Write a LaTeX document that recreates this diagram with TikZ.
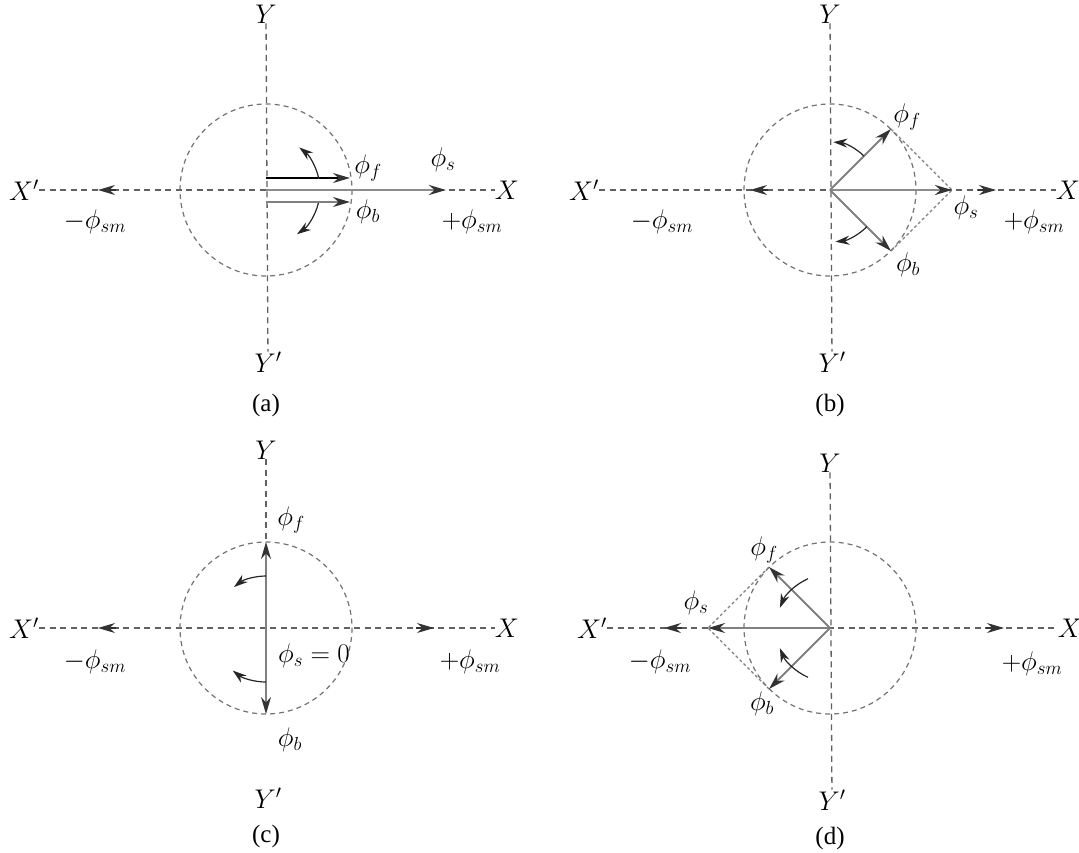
\RequirePackage{fix-cm}
\documentclass[tikz,border=0pt]{standalone}
\usepackage{fontspec}
\setmainfont{Liberation Serif}
\usetikzlibrary{arrows.meta}
\tikzset{
  lbl/.style={inner sep=0pt, font=\fontsize{27}{31}\selectfont},
  captxt/.style={inner sep=0pt, font=\fontsize{25}{29}\selectfont},
  axisline/.style={draw=black!62, line width=1.3pt, dash pattern=on 6pt off 4.5pt},
  circline/.style={draw=black!55, line width=1.2pt, dash pattern=on 5pt off 4pt},
  partline/.style={draw=black!50, line width=1.1pt, dash pattern=on 3pt off 2.5pt},
  tipA/.style={-{Stealth[length=17pt,width=10pt,color=black!80]}},
  axtip/.style={tipA, draw=black!80, line width=1.3pt},
  vecgray/.style={tipA, draw=black!50, line width=1.8pt},
  vecthick/.style={tipA, draw=black!45, line width=2.6pt},
  vecblack/.style={tipA, draw=black, line width=1.8pt},
  rot/.style={-{Stealth[length=14pt,width=9pt]}, draw=black!85, line width=1.2pt}
}
\begin{document}
\begin{tikzpicture}[x=1pt,y=-1pt]
\useasboundingbox (0,0) rectangle (1079,852);
% ---------------- (a) ----------------
\coordinate (Oa) at (266,190);
\node[lbl] (aY) at (266,14) {$Y$};
\node[lbl] (aYp) at (268,362) {$Y'$};
\node[lbl] (aXp) at (24,190) {$X'$};
\node[lbl] (aX) at (507,190) {$X$};
\draw[axisline] (aY) -- (aYp);
\draw[axisline] (aXp) -- (aX);
\draw[circline] (Oa) circle[radius=86];
\coordinate (aL1) at (116,190); \coordinate (aL2) at (98,190);
\draw[axtip] (aL1) -- (aL2);
\coordinate (aS) at (446,190);
\draw[vecthick] (Oa) -- (aS);
\coordinate (aF0) at (266,178); \coordinate (aF) at (350,178);
\coordinate (aB0) at (266,202); \coordinate (aB) at (350,202);
\draw[vecblack] (aF0) -- (aF);
\draw[vecgray] (aB0) -- (aB);
\draw[rot] (Oa) ++(-12:54) arc[start angle=-12, end angle=-52, radius=54];
\draw[rot] (Oa) ++(14:54) arc[start angle=14, end angle=55, radius=54];
\node[lbl] (aFl) at (368,168) {$\phi_f$};
\node[lbl] (aBl) at (368,212) {$\phi_b$};
\node[lbl] (aSl) at (443,160) {$\phi_s$};
\node[lbl] (aPm) at (472,222) {$+\phi_{sm}$};
\node[lbl] (aMm) at (95,222) {$-\phi_{sm}$};
\node[captxt] (aC) at (266,405) {(a)};
% ---------------- (b) ----------------
\coordinate (Ob) at (830,190);
\node[lbl] (bY) at (830,14) {$Y$};
\node[lbl] (bYp) at (832,362) {$Y'$};
\node[lbl] (bXp) at (584,190) {$X'$};
\node[lbl] (bX) at (1068,190) {$X$};
\draw[axisline] (bY) -- (bYp);
\draw[axisline] (bXp) -- (bX);
\draw[circline] (Ob) circle[radius=86];
\coordinate (bL1) at (768,190); \coordinate (bL2) at (750,190);
\draw[axtip] (bL1) -- (bL2);
\coordinate (bR1) at (978,190); \coordinate (bR2) at (996,190);
\draw[axtip] (bR1) -- (bR2);
\coordinate (bF) at (891,129); \coordinate (bB) at (891,251); \coordinate (bS) at (952,190);
\draw[partline] (bF) -- (bS);
\draw[partline] (bB) -- (bS);
\draw[vecthick] (Ob) -- (bS);
\draw[vecgray] (Ob) -- (bF);
\draw[vecgray] (Ob) -- (bB);
\draw[rot] (Ob) ++(-45:48) arc[start angle=-45, end angle=-86, radius=48];
\draw[rot] (Ob) ++(45:52) arc[start angle=45, end angle=84, radius=52];
\node[lbl] (bFl) at (907,117) {$\phi_f$};
\node[lbl] (bBl) at (908,265) {$\phi_b$};
\node[lbl] (bSl) at (966,208) {$\phi_s$};
\node[lbl] (bPm) at (1034,222) {$+\phi_{sm}$};
\node[lbl] (bMm) at (662,222) {$-\phi_{sm}$};
\node[captxt] (bC) at (830,405) {(b)};
% ---------------- (c) ----------------
\coordinate (Oc) at (266,628);
\node[lbl] (cY) at (266,450) {$Y$};
\node[lbl] (cYp) at (268,798) {$Y'$};
\node[lbl] (cXp) at (24,628) {$X'$};
\node[lbl] (cX) at (507,628) {$X$};
\coordinate (cTop) at (266,542); \coordinate (cBot) at (266,714);
\draw[axisline] (cY) -- (cTop);
\draw[axisline] (cXp) -- (cX);
\draw[circline] (Oc) circle[radius=86];
\coordinate (cL1) at (116,628); \coordinate (cL2) at (98,628);
\draw[axtip] (cL1) -- (cL2);
\coordinate (cR1) at (416,628); \coordinate (cR2) at (434,628);
\draw[axtip] (cR1) -- (cR2);
\draw[vecgray] (Oc) -- (cTop);
\draw[vecgray] (Oc) -- (cBot);
\draw[rot] (Oc) ++(-90:52) arc[start angle=-90, end angle=-128, radius=52];
\draw[rot] (Oc) ++(90:54) arc[start angle=90, end angle=128, radius=54];
\node[lbl] (cFl) at (291,520) {$\phi_f$};
\node[lbl] (cBl) at (290,740) {$\phi_b$};
\node[lbl] (cSl) at (314,656) {$\phi_s = 0$};
\node[lbl] (cPm) at (470,662) {$+\phi_{sm}$};
\node[lbl] (cMm) at (95,662) {$-\phi_{sm}$};
\node[captxt] (cC) at (266,836) {(c)};
% ---------------- (d) ----------------
\coordinate (Od) at (830,628);
\node[lbl] (dY) at (830,463) {$Y$};
\node[lbl] (dYp) at (832,800) {$Y'$};
\node[lbl] (dXp) at (592,628) {$X'$};
\node[lbl] (dX) at (1070,628) {$X$};
\draw[axisline] (dY) -- (dYp);
\draw[axisline] (dXp) -- (dX);
\draw[circline] (Od) circle[radius=86];
\coordinate (dL1) at (682,628); \coordinate (dL2) at (664,628);
\draw[axtip] (dL1) -- (dL2);
\coordinate (dR1) at (986,628); \coordinate (dR2) at (1004,628);
\draw[axtip] (dR1) -- (dR2);
\coordinate (dF) at (769,567); \coordinate (dB) at (769,689); \coordinate (dS) at (708,628);
\draw[partline] (dF) -- (dS);
\draw[partline] (dB) -- (dS);
\draw[vecgray] (Od) -- (dS);
\draw[vecgray] (Od) -- (dF);
\draw[vecgray] (Od) -- (dB);
\draw[rot] (Od) ++(-114:54) arc[start angle=-114, end angle=-158, radius=54];
\draw[rot] (Od) ++(114:54) arc[start angle=114, end angle=158, radius=54];
\node[lbl] (dFl) at (764,550) {$\phi_f$};
\node[lbl] (dBl) at (762,704) {$\phi_b$};
\node[lbl] (dSl) at (696,603) {$\phi_s$};
\node[lbl] (dPm) at (1032,664) {$+\phi_{sm}$};
\node[lbl] (dMm) at (660,662) {$-\phi_{sm}$};
\node[captxt] (dC) at (830,838) {(d)};
\end{tikzpicture}
\end{document}
